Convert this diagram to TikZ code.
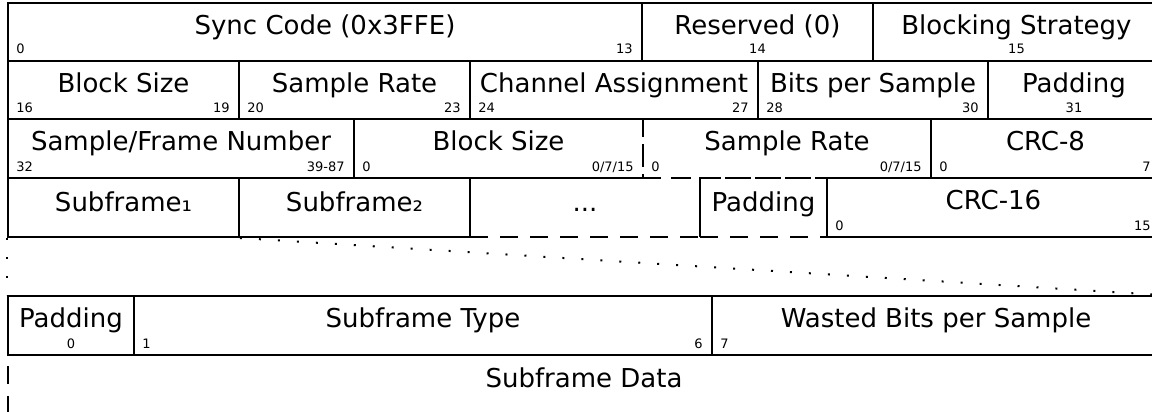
\documentclass[tikz,border=0pt]{standalone}
\usepackage{fontspec}
\setmainfont{DejaVu Sans}
\usetikzlibrary{fit}

\begin{document}
\begin{tikzpicture}[x=0.5pt, y=-0.5pt,
    field/.style={draw, line width=1pt, inner sep=0pt},
    optfield/.style={field, dash pattern=on 9pt off 6pt},
    lbl/.style={anchor=base, inner sep=0pt, font=\fontsize{13}{15}\selectfont},
    num/.style={inner sep=0pt, font=\fontsize{6.5}{8}\selectfont},
    link/.style={line width=1pt, dash pattern=on 1pt off 8.5pt}]
    \useasboundingbox (0,0) rectangle (1152,412);
    \clip (0,0) rectangle (1152,412);
    % optional fields first, so the solid borders stay on top
    \node[optfield, fit={(354,119) (643,178)}] (bsz2) {};
    \node[optfield, fit={(643,119) (931,178)}] (srate2) {};
    \node[optfield, fit={(470,178) (700,237)}] (more) {};
    \node[optfield, fit={(700,178) (827,237)}] (fpad) {};
    % frame header
    \node[field, fit={(8,3) (642,61)}] (sync) {};
    \node[field, fit={(642,3) (873,61)}] (res) {};
    \node[field, fit={(873,3) (1160,61)}] (blk) {};
    \node[field, fit={(8,61) (239,119)}] (bsz) {};
    \node[field, fit={(239,61) (470,119)}] (srate) {};
    \node[field, fit={(470,61) (758,119)}] (chan) {};
    \node[field, fit={(758,61) (988,119)}] (bps) {};
    \node[field, fit={(988,61) (1160,119)}] (pad) {};
    \node[field, fit={(8,119) (354,178)}] (fnum) {};
    \node[field, fit={(931,119) (1160,178)}] (crc8) {};
    \node[field, fit={(8,178) (239,237)}] (sf1) {};
    \node[field, fit={(239,178) (470,237)}] (sf2) {};
    \node[field, fit={(827,178) (1160,237)}] (crc16) {};
    % subframe header
    \node[field, fit={(8,296) (134,355)}] (spad) {};
    \node[field, fit={(134,296) (712,355)}] (stype) {};
    \node[field, fit={(712,296) (1160,355)}] (waste) {};
    \node[optfield, fit={(8,355) (1160,440)}] (sdata) {};
    \draw[link] (sf1.south west) -- (spad.north west);
    \draw[link] (sf1.south east) -- (waste.north east);

    \node[lbl] (sync-t) at ([shift={(0,32)}]sync.north) {Sync Code (0x3FFE)};
    \node[num, anchor=base west] (sync-a) at ([shift={(9,-8)}]sync.south west) {0};
    \node[num, anchor=base east] (sync-b) at ([shift={(-10,-8)}]sync.south east) {13};
    \node[lbl] (res-t) at ([shift={(0,32)}]res.north) {Reserved (0)};
    \node[num, anchor=base] (res-a) at ([shift={(0,-8)}]res.south) {14};
    \node[lbl] (blk-t) at ([shift={(0,32)}]blk.north) {Blocking Strategy};
    \node[num, anchor=base] (blk-a) at ([shift={(0,-8)}]blk.south) {15};

    \node[lbl] (bsz-t) at ([shift={(0,32)}]bsz.north) {Block Size};
    \node[num, anchor=base west] (bsz-a) at ([shift={(9,-8)}]bsz.south west) {16};
    \node[num, anchor=base east] (bsz-b) at ([shift={(-10,-8)}]bsz.south east) {19};
    \node[lbl] (srate-t) at ([shift={(0,32)}]srate.north) {Sample Rate};
    \node[num, anchor=base west] (srate-a) at ([shift={(9,-8)}]srate.south west) {20};
    \node[num, anchor=base east] (srate-b) at ([shift={(-10,-8)}]srate.south east) {23};
    \node[lbl] (chan-t) at ([shift={(0,32)}]chan.north) {Channel Assignment};
    \node[num, anchor=base west] (chan-a) at ([shift={(9,-8)}]chan.south west) {24};
    \node[num, anchor=base east] (chan-b) at ([shift={(-10,-8)}]chan.south east) {27};
    \node[lbl] (bps-t) at ([shift={(0,32)}]bps.north) {Bits per Sample};
    \node[num, anchor=base west] (bps-a) at ([shift={(9,-8)}]bps.south west) {28};
    \node[num, anchor=base east] (bps-b) at ([shift={(-10,-8)}]bps.south east) {30};
    \node[lbl] (pad-t) at ([shift={(0,32)}]pad.north) {Padding};
    \node[num, anchor=base] (pad-a) at ([shift={(0,-8)}]pad.south) {31};

    \node[lbl] (fnum-t) at ([shift={(0,32)}]fnum.north) {Sample/Frame Number};
    \node[num, anchor=base west] (fnum-a) at ([shift={(9,-8)}]fnum.south west) {32};
    \node[num, anchor=base east] (fnum-b) at ([shift={(-10,-8)}]fnum.south east) {39-87};
    \node[lbl] (bsz2-t) at ([shift={(0,32)}]bsz2.north) {Block Size};
    \node[num, anchor=base west] (bsz2-a) at ([shift={(9,-8)}]bsz2.south west) {0};
    \node[num, anchor=base east] (bsz2-b) at ([shift={(-10,-8)}]bsz2.south east) {0/7/15};
    \node[lbl] (srate2-t) at ([shift={(0,32)}]srate2.north) {Sample Rate};
    \node[num, anchor=base west] (srate2-a) at ([shift={(9,-8)}]srate2.south west) {0};
    \node[num, anchor=base east] (srate2-b) at ([shift={(-10,-8)}]srate2.south east) {0/7/15};
    \node[lbl] (crc8-t) at ([shift={(0,32)}]crc8.north) {CRC-8};
    \node[num, anchor=base west] (crc8-a) at ([shift={(9,-8)}]crc8.south west) {0};
    \node[num, anchor=base east] (crc8-b) at ([shift={(-10,-8)}]crc8.south east) {7};

    \node[lbl] (sf1-t) at ([shift={(0,34)}]sf1.north) {Subframe₁};
    \node[lbl] (sf2-t) at ([shift={(0,34)}]sf2.north) {Subframe₂};
    \node[lbl] (more-t) at ([shift={(0,34)}]more.north) {...};
    \node[lbl] (fpad-t) at ([shift={(0,34)}]fpad.north) {Padding};
    \node[lbl] (crc16-t) at ([shift={(0,32)}]crc16.north) {CRC-16};
    \node[num, anchor=base west] (crc16-a) at ([shift={(9,-8)}]crc16.south west) {0};
    \node[num, anchor=base east] (crc16-b) at ([shift={(-10,-8)}]crc16.south east) {15};

    \node[lbl] (spad-t) at ([shift={(0,32)}]spad.north) {Padding};
    \node[num, anchor=base] (spad-a) at ([shift={(0,-8)}]spad.south) {0};
    \node[lbl] (stype-t) at ([shift={(0,32)}]stype.north) {Subframe Type};
    \node[num, anchor=base west] (stype-a) at ([shift={(9,-8)}]stype.south west) {1};
    \node[num, anchor=base east] (stype-b) at ([shift={(-10,-8)}]stype.south east) {6};
    \node[lbl] (waste-t) at ([shift={(0,32)}]waste.north) {Wasted Bits per Sample};
    \node[num, anchor=base west] (waste-a) at ([shift={(9,-8)}]waste.south west) {7};
    \node[lbl] (sdata-t) at ([shift={(0,33)}]sdata.north) {Subframe Data};
\end{tikzpicture}
\end{document}
